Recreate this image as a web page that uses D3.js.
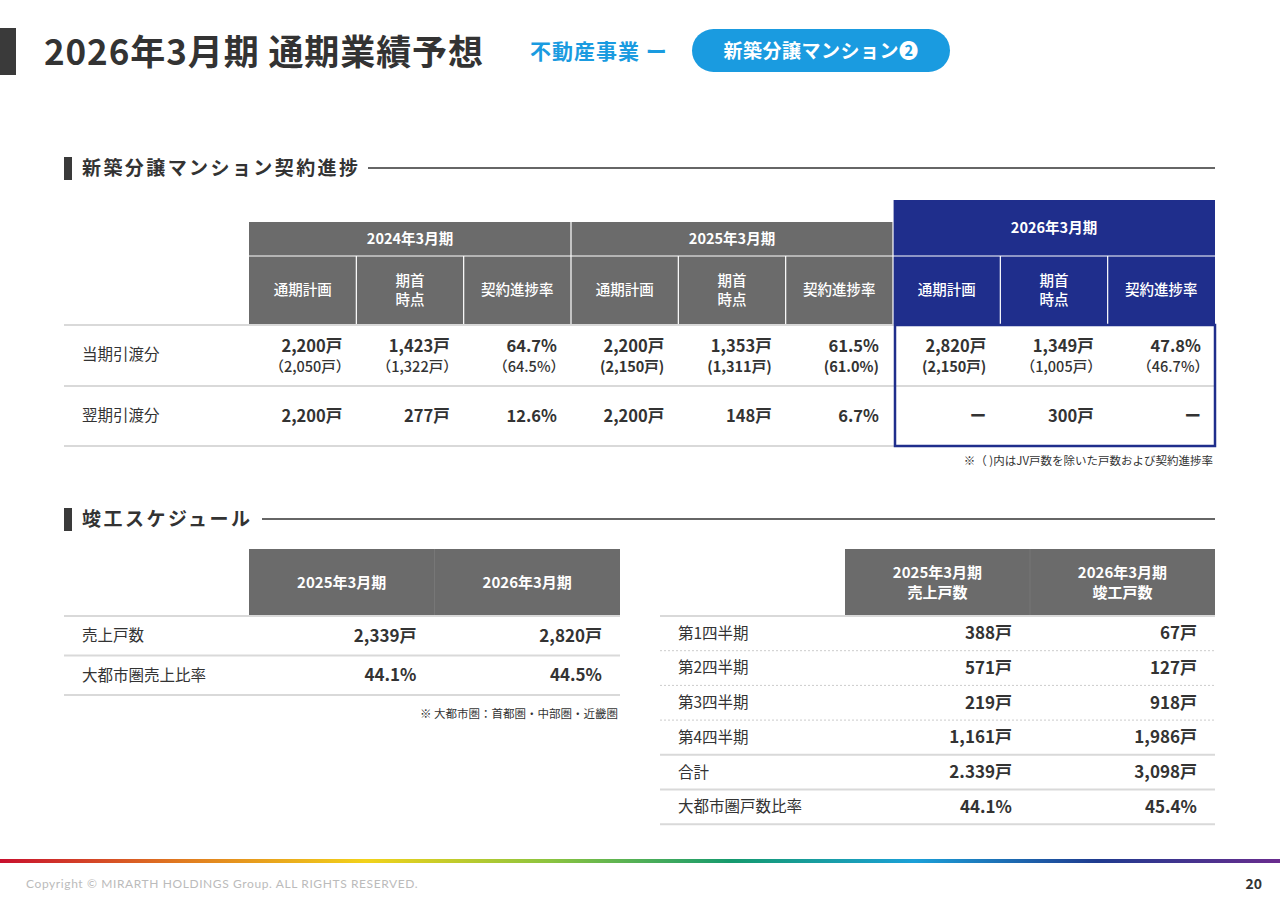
<!DOCTYPE html>
<html><head><meta charset="utf-8">
<script src="https://cdn.jsdelivr.net/npm/d3@7"></script>
<style>body{margin:0;background:#fff}svg{display:block;font-family:"Noto Sans CJK JP","Noto Sans",sans-serif}</style>
</head><body><svg id="c" width="1280" height="905"></svg>
<script>
// ---- data ----
const periods1 = ["2024年3月期","2025年3月期","2026年3月期"];
const subHeads = ["通期計画","期首\n時点","契約進捗率"];
const rowLabels1 = ["当期引渡分","翌期引渡分"];
const row1Main = ["2,200戸","1,423戸","64.7%","2,200戸","1,353戸","61.5%","2,820戸","1,349戸","47.8%"];
const row1Sub  = ["（2,050戸）","（1,322戸）","（64.5%）","(2,150戸)","(1,311戸)","(61.0%)","(2,150戸)","（1,005戸）","（46.7%）"];
const row2Main = ["2,200戸","277戸","12.6%","2,200戸","148戸","6.7%","ー","300戸","ー"];
const heads2 = ["2025年3月期","2026年3月期"];
const rowLabels2 = ["売上戸数","大都市圏売上比率"];
const vals2 = [["2,339戸","2,820戸"],["44.1%","44.5%"]];
const heads3 = ["2025年3月期\n売上戸数","2026年3月期\n竣工戸数"];
const rowLabels3 = ["第1四半期","第2四半期","第3四半期","第4四半期","合計","大都市圏戸数比率"];
const vals3 = [["388戸","67戸"],["571戸","127戸"],["219戸","918戸"],["1,161戸","1,986戸"],["2.339戸","3,098戸"],["44.1%","45.4%"]];

const svg = d3.select("#c");
const DARK="#333", GREY="#6b6b6b", NAVY="#1f2e8c", BLUE="#1a9be0", LINE="#d9d9d9";

function multi(g, x, y, txt, lh, attrs){
  const lines = txt.split("\n"); const t = g.append("text").attr("x",x);
  for(const k in attrs) t.attr(k, attrs[k]);
  lines.forEach((l,i)=>t.append("tspan").attr("x",x).attr("y", y + (i-(lines.length-1)/2)*lh).attr("dy","0.35em").text(l));
  return t;
}

// ---- title ----
svg.append("rect").attr("x",0).attr("y",28).attr("width",16).attr("height",47).attr("fill","#3a3a3a");
svg.append("text").attr("x",44).attr("y",65).attr("font-size",35).attr("font-weight",700).attr("fill",DARK).attr("textLength",439).text("2026年3月期 通期業績予想");
svg.append("text").attr("x",530).attr("y",59).attr("font-size",21).attr("font-weight",700).attr("fill",BLUE).attr("letter-spacing",1).text("不動産事業 ー");
svg.append("rect").attr("x",692).attr("y",29).attr("width",258).attr("height",43).attr("rx",21.5).attr("fill",BLUE);
svg.append("text").attr("x",821).attr("y",51).attr("dy","0.35em").attr("text-anchor","middle").attr("font-size",19).attr("font-weight",700).attr("fill","#fff").attr("letter-spacing",0.5).text("新築分譲マンション❷");

function section(y, label, lineStart, len){
  svg.append("rect").attr("x",64).attr("y",y-11).attr("width",8).attr("height",23).attr("fill","#3a3a3a");
  svg.append("text").attr("x",82).attr("y",y).attr("dy","0.35em").attr("font-size",19).attr("font-weight",700).attr("fill",DARK).attr("textLength",len).text(label);
  svg.append("line").attr("x1",lineStart).attr("x2",1215).attr("y1",y).attr("y2",y).attr("stroke",DARK).attr("stroke-width",1.3);
}
section(168,"新築分譲マンション契約進捗",368,276);
section(519,"竣工スケジュール",262,168);

// ---- table 1 ----
const xc = d3.scaleBand().domain(d3.range(9)).range([249,1215]);
const t1 = svg.append("g");
periods1.forEach((p,i)=>{
  const x0 = xc(i*3), w = xc.bandwidth()*3;
  const navy = i===2, y0 = navy?200:222;
  t1.append("rect").attr("x",x0).attr("y",y0).attr("width",w).attr("height",256-y0).attr("fill",navy?NAVY:GREY);
  t1.append("text").attr("x",x0+w/2).attr("y",(y0+256)/2).attr("dy","0.35em").attr("text-anchor","middle").attr("font-size",14.5).attr("font-weight",700).attr("fill","#fff").text(p);
  subHeads.forEach((s,j)=>{
    const x = xc(i*3+j);
    t1.append("rect").attr("x",x).attr("y",256).attr("width",xc.bandwidth()).attr("height",69).attr("fill",navy?NAVY:GREY);
    multi(t1, x+xc.bandwidth()/2, 290, s, 19, {"text-anchor":"middle","font-size":14.5,"fill":"#fff","font-weight":500});
  });
});
d3.range(1,9).forEach(k=>{
  const x=xc(k); const top = (k%3===0)? (k===6?200:222) : 256;
  t1.append("line").attr("x1",x).attr("x2",x).attr("y1",top).attr("y2",325).attr("stroke","#fff").attr("stroke-width",1.2);
});
[0,1,2].forEach(i=>t1.append("line").attr("x1",xc(i*3)).attr("x2",xc(i*3)+xc.bandwidth()*3).attr("y1",256).attr("y2",256).attr("stroke","#fff").attr("stroke-width",1));
[325,386,446].forEach(y=>t1.append("line").attr("x1",64).attr("x2",1215).attr("y1",y).attr("y2",y).attr("stroke",LINE).attr("stroke-width",2));
rowLabels1.forEach((l,i)=>t1.append("text").attr("x",82).attr("y",[355,416][i]).attr("dy","0.35em").attr("font-size",15.5).attr("fill",DARK).text(l));
row1Main.forEach((v,k)=>{
  const xr = xc(k)+xc.bandwidth()-14;
  t1.append("text").attr("x",xr).attr("y",346).attr("dy","0.35em").attr("text-anchor","end").attr("font-size",16.5).attr("font-weight",700).attr("fill",DARK).text(v);
  t1.append("text").attr("x",xr+(row1Sub[k].startsWith("（")?8:0)).attr("y",367).attr("dy","0.35em").attr("text-anchor","end").attr("font-size",14.5).attr("font-weight",k>=3&&k<=6?700:500).attr("fill",DARK).text(row1Sub[k]);
});
row2Main.forEach((v,k)=>{
  const xr = xc(k)+xc.bandwidth()-14;
  t1.append("text").attr("x",xr).attr("y",416).attr("dy","0.35em").attr("text-anchor","end").attr("font-size",16.5).attr("font-weight",700).attr("fill",DARK).text(v);
});
t1.append("rect").attr("x",895).attr("y",325).attr("width",320).attr("height",121).attr("fill","none").attr("stroke",NAVY).attr("stroke-width",2.5);
svg.append("text").attr("x",1213).attr("y",461).attr("dy","0.35em").attr("text-anchor","end").attr("font-size",11.5).attr("fill",DARK).text("※（ )内はJV戸数を除いた戸数および契約進捗率");

// ---- tables 2/3 ----
function table(x0, labelW, colW, heads, labels, vals, rowH, dottedUntil){
  const g = svg.append("g");
  const xs = d3.scaleBand().domain(heads.map((_,i)=>i)).range([x0+labelW, x0+labelW+colW*heads.length]);
  heads.forEach((h,i)=>{
    g.append("rect").attr("x",xs(i)).attr("y",549).attr("width",xs.bandwidth()).attr("height",67).attr("fill",GREY);
    multi(g, xs(i)+xs.bandwidth()/2, 583, h, 20, {"text-anchor":"middle","font-size":15,"font-weight":700,"fill":"#fff"});
    if(i>0) g.append("line").attr("x1",xs(i)).attr("x2",xs(i)).attr("y1",549).attr("y2",616).attr("stroke","#777");
  });
  const y = d3.scaleBand().domain(labels.map((_,i)=>i)).range([616, 616+rowH*labels.length]);
  const right = x0+labelW+colW*heads.length;
  g.append("line").attr("x1",x0).attr("x2",right).attr("y1",616).attr("y2",616).attr("stroke",LINE).attr("stroke-width",2);
  labels.forEach((l,i)=>{
    const cy = y(i)+rowH/2;
    g.append("text").attr("x",x0+18).attr("y",cy).attr("dy","0.35em").attr("font-size",15.5).attr("fill",DARK).text(l);
    vals[i].forEach((v,j)=>g.append("text").attr("x",xs(j)+xs.bandwidth()-18).attr("y",cy).attr("dy","0.35em").attr("text-anchor","end").attr("font-size",17).attr("font-weight",700).attr("fill",DARK).text(v));
    const dotted = i < dottedUntil;
    g.append("line").attr("x1",x0).attr("x2",right).attr("y1",y(i)+rowH).attr("y2",y(i)+rowH)
      .attr("stroke",dotted?"#ccc":LINE).attr("stroke-width",dotted?1:2).attr("stroke-dasharray",dotted?"2,2":null);
  });
}
table(64,185,185.5,heads2,rowLabels2,vals2,39.5,0);
svg.append("text").attr("x",618).attr("y",714).attr("dy","0.35em").attr("text-anchor","end").attr("font-size",11.5).attr("fill",DARK).text("※  大都市圏：首都圏・中部圏・近畿圏");
table(660,185,185,heads3,rowLabels3,vals3,34.7,3);

// ---- footer ----
const grad = svg.append("defs").append("linearGradient").attr("id","rb");
["#c8102e","#e07b20","#f2d21a","#8cc43f","#159a6e","#1ba0d8","#1f3b8f","#6a2c8e"].forEach((c,i,a)=>grad.append("stop").attr("offset",i/(a.length-1)).attr("stop-color",c));
svg.append("rect").attr("x",0).attr("y",859).attr("width",1280).attr("height",4).attr("fill","url(#rb)");
svg.append("text").attr("x",26).attr("y",884).attr("dy","0.35em").attr("font-size",12).attr("fill","#bbb").attr("font-family","Lato, sans-serif").attr("letter-spacing",0.6).text("Copyright © MIRARTH HOLDINGS Group. ALL RIGHTS RESERVED.");
svg.append("text").attr("x",1262).attr("y",884).attr("dy","0.35em").attr("text-anchor","end").attr("font-size",14).attr("font-weight",700).attr("fill",DARK).text("20");
</script></body></html>
